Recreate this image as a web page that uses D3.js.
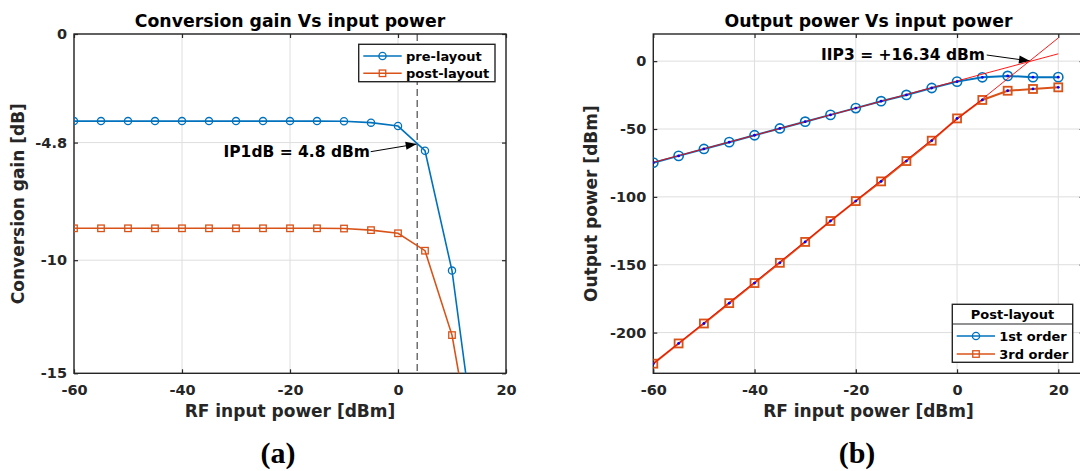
<!DOCTYPE html>
<html><head><meta charset="utf-8">
<script src="https://cdn.jsdelivr.net/npm/d3@7"></script>
<style>
body{margin:0;background:#fff}
text{font-family:"DejaVu Sans",sans-serif;font-weight:bold}
</style>
</head><body>
<svg id="c" width="1080" height="471" style="display:block;background:#fff"></svg>
<script>
// ---------- data ----------
const gainInput = [-60,-55,-50,-45,-40,-35,-30,-25,-20,-15,-10,-5,0,5,10,15];
const preLayoutGain  = [-3.85,-3.85,-3.85,-3.85,-3.85,-3.85,-3.85,-3.85,-3.85,-3.85,-3.86,-3.92,-4.07,-5.16,-10.46,-19.4];
const postLayoutGain = [-8.59,-8.59,-8.59,-8.59,-8.59,-8.59,-8.59,-8.59,-8.59,-8.59,-8.6,-8.67,-8.81,-9.58,-13.31,-20.1];
const gainYTicks = [0,-4.8,-10,-15];
const xTicks = [-60,-40,-20,0,20];
const ip1dbLine = 3.55;

const powerInput = [-60,-55,-50,-45,-40,-35,-30,-25,-20,-15,-10,-5,0,5,10,15,20];
const firstOrder = [-74.8,-69.8,-64.7,-59.7,-54.6,-49.6,-44.6,-39.6,-34.6,-29.5,-24.9,-19.8,-15.1,-11.9,-10.9,-11.8,-11.8];
const thirdOrder = [-222.9,-208,-193.3,-178.3,-163.5,-148.6,-133.2,-117.8,-103.1,-88.6,-73.6,-58.6,-42.2,-28.6,-21.8,-20.5,-19.3];
const fitX = [-60,20];
const fit1Y = [-74.6,5.4];
const fit3Y = [-222.9,17.1];
const powerYTicks = [0,-50,-100,-150,-200];

// ---------- styles ----------
const BLUE="#0072BD", ORANGE="#D95319", AX="#262626", GRID="#dedede";
const svg = d3.select("#c");

function panel(o){
  const g = svg.append("g");
  const [x0,x1]=o.x.range(), [y0,y1]=o.y.range(); // y0 bottom, y1 top
  const id = "clip"+o.name;
  svg.append("clipPath").attr("id",id).append("rect")
    .attr("x",x0).attr("y",y1).attr("width",x1-x0).attr("height",y0-y1);
  // grid
  g.append("g").selectAll("line").data(o.xt).join("line")
    .attr("x1",d=>o.x(d)).attr("x2",d=>o.x(d)).attr("y1",y1).attr("y2",y0)
    .attr("stroke",GRID).attr("stroke-width",1);
  g.append("g").selectAll("line").data(o.yt).join("line")
    .attr("y1",d=>o.y(d)).attr("y2",d=>o.y(d)).attr("x1",x0).attr("x2",x1)
    .attr("stroke",GRID).attr("stroke-width",1);
  // axes
  const fmt = d=>String(d);
  const ab = g.append("g").attr("transform",`translate(0,${y0})`)
    .call(d3.axisBottom(o.x).tickValues(o.xt).tickSize(-4).tickSizeOuter(0).tickFormat(fmt));
  ab.selectAll("text").attr("y",22).attr("dy",0);
  const al = g.append("g").attr("transform",`translate(${x0},0)`)
    .call(d3.axisLeft(o.y).tickValues(o.yt).tickSize(-4).tickSizeOuter(0).tickPadding(7).tickFormat(fmt));
  g.append("g").attr("transform",`translate(0,${y1})`)
    .call(d3.axisTop(o.x).tickValues(o.xt).tickSize(-4).tickSizeOuter(0).tickFormat(""));
  g.append("g").attr("transform",`translate(${x1},0)`)
    .call(d3.axisRight(o.y).tickValues(o.yt).tickSize(-4).tickSizeOuter(0).tickFormat(""));
  g.selectAll(".domain").remove();
  g.selectAll(".tick line").attr("stroke",AX).attr("stroke-width",1.2);
  g.selectAll(".tick text").attr("fill",AX).style("font-size","14.5px")
    .style("font-family","DejaVu Sans").style("font-weight","bold");
  // box
  g.append("rect").attr("x",x0).attr("y",y1).attr("width",x1-x0).attr("height",y0-y1)
    .attr("fill","none").attr("stroke",AX).attr("stroke-width",1.4);
  // labels
  g.append("text").attr("x",(x0+x1)/2).attr("y",27.3).attr("text-anchor","middle")
    .style("font-size","17.3px").attr("fill","#000").text(o.title);
  g.append("text").attr("x",(x0+x1)/2).attr("y",416.7).attr("text-anchor","middle")
    .style("font-size","17px").attr("fill",AX).text(o.xlabel);
  g.append("text").attr("transform",`translate(${o.ylx},${(y0+y1)/2}) rotate(-90)`)
    .attr("text-anchor","middle").style("font-size","17px").attr("fill",AX).text(o.ylabel);
  g.append("text").attr("x",o.subx).attr("y",463).attr("text-anchor","middle")
    .style("font-family","'Liberation Serif',serif").style("font-size","30px").attr("fill","#000").text(o.sub);
  const plot = svg.append("g").attr("clip-path",`url(#${id})`);
  return {g,plot};
}

function circles(sel,xs,ys,x,y,r,color,sw){
  sel.append("g").selectAll("circle").data(xs).join("circle")
    .attr("cx",(d)=>x(d)).attr("cy",(d,i)=>y(ys[i])).attr("r",r)
    .attr("fill","none").attr("stroke",color).attr("stroke-width",sw);
}
function squares(sel,xs,ys,x,y,s,color,sw){
  sel.append("g").selectAll("rect").data(xs).join("rect")
    .attr("x",(d)=>x(d)-s/2).attr("y",(d,i)=>y(ys[i])-s/2).attr("width",s).attr("height",s)
    .attr("fill","none").attr("stroke",color).attr("stroke-width",sw);
}
function path(sel,xs,ys,x,y,color,w){
  sel.append("path").datum(xs.map((d,i)=>[d,ys[i]]))
    .attr("d",d3.line().x(d=>x(d[0])).y(d=>y(d[1])))
    .attr("fill","none").attr("stroke",color).attr("stroke-width",w);
}
function arrow(sel,xa,ya,xb,yb){
  sel.append("line").attr("x1",xa).attr("y1",ya).attr("x2",xb).attr("y2",yb)
    .attr("stroke","#000").attr("stroke-width",1);
  const ang=Math.atan2(yb-ya,xb-xa), L=11, W=4;
  const bx=xb-L*Math.cos(ang), by=yb-L*Math.sin(ang);
  const px=-Math.sin(ang)*W, py=Math.cos(ang)*W;
  sel.append("path").attr("d",`M${xb},${yb}L${bx+px},${by+py}L${bx-px},${by-py}Z`).attr("fill","#000");
}

// ---------- panel (a) ----------
const xA = d3.scaleLinear().domain([-60,20]).range([74,506]);
const yA = d3.scaleLinear().domain([-15,0]).range([373.3,34]);
const A = panel({name:"a",x:xA,y:yA,xt:xTicks,yt:gainYTicks,title:"Conversion gain Vs input power",
  xlabel:"RF input power [dBm]",ylabel:"Conversion gain [dB]",ylx:24,sub:"(a)",subx:278});
path(A.plot,gainInput,preLayoutGain,xA,yA,BLUE,1.6);
circles(A.plot,gainInput,preLayoutGain,xA,yA,3.6,BLUE,1.3);
path(A.plot,gainInput,postLayoutGain,xA,yA,ORANGE,1.6);
squares(A.plot,gainInput,postLayoutGain,xA,yA,6.5,ORANGE,1.3);
A.g.append("line").attr("x1",xA(ip1dbLine)).attr("x2",xA(ip1dbLine)).attr("y1",yA(0)).attr("y2",yA(-15))
  .attr("stroke",AX).attr("stroke-width",1).attr("stroke-dasharray","7,4");
A.g.append("text").attr("x",370).attr("y",157.3).attr("text-anchor","end")
  .style("font-size","15.5px").attr("fill","#000").text("IP1dB = 4.8 dBm");
arrow(A.g,370.7,151.7,416.7,144);
// legend (a)
const LA=A.g.append("g");
LA.append("rect").attr("x",358.7).attr("y",44.3).attr("width",136.3).attr("height",37.4)
  .attr("fill","#fff").attr("stroke",AX).attr("stroke-width",1.4);
[["pre-layout",BLUE,56,"c"],["post-layout",ORANGE,73.3,"s"]].forEach(([t,c,yy,m])=>{
  LA.append("line").attr("x1",363.3).attr("x2",401.7).attr("y1",yy).attr("y2",yy).attr("stroke",c).attr("stroke-width",1.6);
  if(m==="c") LA.append("circle").attr("cx",382.5).attr("cy",yy).attr("r",3.6).attr("fill","none").attr("stroke",c).attr("stroke-width",1.3);
  else LA.append("rect").attr("x",382.5-3.25).attr("y",yy-3.25).attr("width",6.5).attr("height",6.5).attr("fill","none").attr("stroke",c).attr("stroke-width",1.3);
  LA.append("text").attr("x",406).attr("y",yy+4.6).style("font-size","13px").attr("fill","#000").text(t);
});

// ---------- panel (b) ----------
const xB = d3.scaleLinear().domain([-60,25]).range([653.3,1083.6]);
const yB = d3.scaleLinear().domain([-230,20]).range([373.3,34]);
const B = panel({name:"b",x:xB,y:yB,xt:xTicks,yt:powerYTicks,title:"Output power Vs input power",
  xlabel:"RF input power [dBm]",ylabel:"Output power [dBm]",ylx:597,sub:"(b)",subx:857});
path(B.plot,powerInput,firstOrder,xB,yB,BLUE,2);
circles(B.plot,powerInput,firstOrder,xB,yB,4.6,BLUE,1.6);
path(B.plot,powerInput,thirdOrder,xB,yB,ORANGE,2);
squares(B.plot,powerInput,thirdOrder,xB,yB,8,ORANGE,1.8);
path(B.plot,fitX,fit1Y,xB,yB,"#ff0000",0.9);
path(B.plot,fitX,fit3Y,xB,yB,"#ff0000",0.9);
[firstOrder,thirdOrder].forEach(ys=>{
  B.plot.append("g").selectAll("circle").data(powerInput).join("circle")
    .attr("cx",d=>xB(d)).attr("cy",(d,i)=>yB(ys[i])).attr("r",1.4).attr("fill","#0000ff");
});
B.g.append("text").attr("x",985).attr("y",60).attr("text-anchor","end")
  .style("font-size","15.5px").attr("fill","#000").text("IIP3 = +16.34 dBm");
arrow(B.g,986.7,55,1030,61);
// legend (b)
const LB=B.g.append("g");
LB.append("rect").attr("x",952.3).attr("y",304.3).attr("width",120.4).attr("height",58)
  .attr("fill","#fff").attr("stroke",AX).attr("stroke-width",1.4);
LB.append("line").attr("x1",952.3).attr("x2",1072.7).attr("y1",324).attr("y2",324).attr("stroke",AX).attr("stroke-width",1.2);
LB.append("text").attr("x",1012.5).attr("y",319.3).attr("text-anchor","middle").style("font-size","13px").attr("fill","#000").text("Post-layout");
[["1st order",BLUE,336,"c"],["3rd order",ORANGE,354,"s"]].forEach(([t,c,yy,m])=>{
  LB.append("line").attr("x1",956.7).attr("x2",995).attr("y1",yy).attr("y2",yy).attr("stroke",c).attr("stroke-width",1.6);
  if(m==="c") LB.append("circle").attr("cx",976).attr("cy",yy).attr("r",3.6).attr("fill","none").attr("stroke",c).attr("stroke-width",1.3);
  else LB.append("rect").attr("x",976-3.25).attr("y",yy-3.25).attr("width",6.5).attr("height",6.5).attr("fill","none").attr("stroke",c).attr("stroke-width",1.3);
  LB.append("text").attr("x",999.3).attr("y",yy+4.6).style("font-size","13px").attr("fill","#000").text(t);
});
</script>
</body></html>
